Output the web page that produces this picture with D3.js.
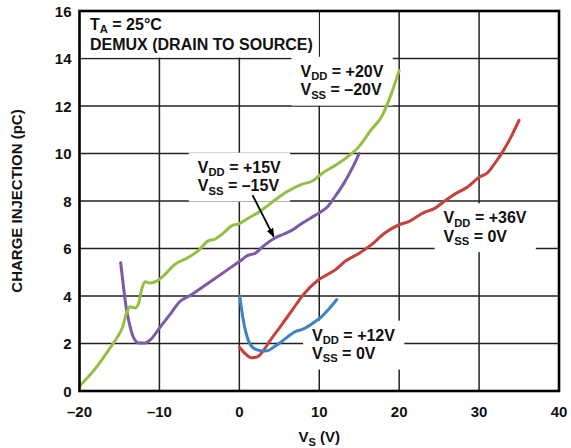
<!DOCTYPE html>
<html>
<head>
<meta charset="utf-8">
<script src="https://cdn.jsdelivr.net/npm/d3@7"></script>
<style>
body { margin: 0; background: #fff; }
text { font-family: "Liberation Sans", Arial, sans-serif; font-weight: bold; fill: #111; }
.grid line { stroke: #222; stroke-width: 1.5; }
.curve { fill: none; stroke-width: 3; stroke-linejoin: round; stroke-linecap: round; }
</style>
</head>
<body>
<div class="chart"></div>
<script>
const xTicks = [-20, -10, 0, 10, 20, 30, 40]
const yTicks = [0, 2, 4, 6, 8, 10, 12, 14, 16]

const vs20 = [-20, -18, -16, -15.2, -14.6, -14.1, -13.7, -13.0, -12.6, -12.2, -11.8, -11.2, -10.5, -9.5, -8.0, -6.5, -5.0, -4.0, -3.0, -2.0, -1.0, 0, 1, 2.5, 4.5, 6, 7.8, 9.2, 10.3, 12.0, 13.5, 15, 16.5, 17.8, 19.0, 20.0]
const qc20 = [0.2, 0.95, 1.9, 2.3, 2.7, 3.3, 3.55, 3.5, 3.7, 4.3, 4.6, 4.55, 4.6, 4.85, 5.35, 5.6, 5.95, 6.3, 6.4, 6.65, 6.95, 7.05, 7.25, 7.55, 8.05, 8.4, 8.7, 8.85, 9.15, 9.5, 9.85, 10.3, 11.0, 11.55, 12.5, 13.5]

const vs15 = [-14.85, -14.5, -14.2, -13.8, -13.3, -12.6, -11.8, -11.0, -10.0, -8.5, -7.5, -6.0, -4.5, -3.0, -1.5, 0, 1.0, 2.0, 3.0, 4.4, 5.5, 6.5, 7.8, 9.0, 10.0, 11.0, 12.0, 13.0, 14.0, 15.0]
const qc15 = [5.4, 4.4, 3.6, 2.9, 2.3, 2.02, 2.02, 2.2, 2.65, 3.3, 3.75, 4.05, 4.4, 4.75, 5.1, 5.45, 5.7, 5.8, 6.1, 6.43, 6.6, 6.75, 7.05, 7.3, 7.5, 7.75, 8.2, 8.7, 9.3, 10.0]

const vs36 = [0, 0.8, 1.5, 2.3, 3.0, 3.8, 5.0, 6.5, 8.0, 9.8, 11.0, 12.0, 13.2, 15.0, 16.5, 18.2, 20.0, 21.2, 23.0, 24.5, 25.5, 27, 28.6, 30.0, 31.1, 32.0, 33.0, 34.0, 35.0]
const qc36 = [1.85, 1.55, 1.4, 1.45, 1.7, 2.1, 2.65, 3.35, 4.05, 4.65, 4.9, 5.1, 5.45, 5.8, 6.15, 6.65, 7.0, 7.13, 7.5, 7.7, 7.95, 8.3, 8.6, 9.0, 9.2, 9.6, 10.1, 10.7, 11.4]

const vs12 = [0.05, 0.3, 0.6, 1.1, 1.8, 2.6, 3.3, 4.4, 5.2, 6.1, 7.0, 7.8, 8.6, 9.5, 10.3, 11.2, 12.2]
const qc12 = [4.0, 3.4, 2.8, 2.15, 1.8, 1.7, 1.68, 1.87, 2.05, 2.3, 2.5, 2.58, 2.72, 2.93, 3.13, 3.45, 3.85]

const series = [
	{ name: "36", color: "#c5413b", x: vs36, y: qc36 },
	{ name: "12", color: "#3f83c5", x: vs12, y: qc12 },
	{ name: "15", color: "#7c59a9", x: vs15, y: qc15 },
	{ name: "20", color: "#93c044", x: vs20, y: qc20 }
]

// label anchors in data units: x, baseline of first line
const labels = [
	{ x: 7.65, y: 13.23, vdd: "+20V", vss: "\u201320V" },
	{ x: -5.19, y: 9.19, vdd: "+15V", vss: "\u201315V" },
	{ x: 25.56, y: 7.06, vdd: "+36V", vss: "0V" },
	{ x: 9.1, y: 2.12, vdd: "+12V", vss: "0V" }
]
const arrowFrom = [1.65, 8.25]
const arrowTo = [4.3, 6.5]

let width = 571
let height = 448
let mLeft = 79.5, mRight = 559, mTop = 11, mBottom = 391

const svg = d3.select('.chart').append("svg")
	.attr("width", width)
	.attr("height", height)

let xScale = d3.scaleLinear().domain([-20, 40]).range([mLeft, mRight])
let yScale = d3.scaleLinear().domain([0, 16]).range([mBottom, mTop])

const fmt = d => d < 0 ? "\u2013" + Math.abs(d) : "" + d

function drawGrid() {
	const g = svg.append("g").attr("class", "grid")
	g.selectAll("line.v").data(xTicks.slice(1, -1)).join("line")
		.attr("class", "v")
		.attr("x1", d => xScale(d)).attr("x2", d => xScale(d))
		.attr("y1", mTop).attr("y2", mBottom)
	g.selectAll("line.h").data(yTicks.slice(1, -1)).join("line")
		.attr("class", "h")
		.attr("y1", d => yScale(d)).attr("y2", d => yScale(d))
		.attr("x1", mLeft).attr("x2", mRight)
}

// one text element, lines as tspans; sub is the subscript part (or null)
function addLine(t, x, dy, main, sub, rest, sdy) {
	t.append("tspan").attr("x", x).attr("dy", dy).text(main)
	if (sub) {
		t.append("tspan").attr("dy", sdy).style("font-size", "11.2px").text(sub)
		t.append("tspan").attr("dy", -sdy).text(rest)
	}
}

function padBox(g, pl, pr, pt, pb) {
	const b = g.node().getBBox()
	g.insert("rect", ":first-child")
		.attr("x", b.x - pl).attr("y", b.y - pt)
		.attr("width", b.width + pl + pr).attr("height", b.height + pt + pb)
		.attr("fill", "#fff")
}

function drawLabels() {
	const title = svg.append("g")
	const tt = title.append("text").attr("y", yScale(15.2)).style("font-size", "16px")
	addLine(tt, xScale(-18.69), 0, "T", "A", " = 25\u00b0C", 3)
	addLine(tt, xScale(-18.69), 19.6, "DEMUX (DRAIN TO SOURCE)", null, "", 0)
	padBox(title, 9, 6, 6, 5)

	labels.forEach(l => {
		const g = svg.append("g").attr("class", "lab")
		const t = g.append("text").attr("y", yScale(l.y)).style("font-size", "16px")
		addLine(t, xScale(l.x), 0, "V", "DD", " = " + l.vdd, 3.5)
		addLine(t, xScale(l.x), 18.3, "V", "SS", " = " + l.vss, 3.5)
		padBox(g, 9, 9, 6, 5)
	})
}

function drawCurves() {
	const line = d3.line()
		.x(d => xScale(d[0]))
		.y(d => yScale(d[1]))
		.curve(d3.curveMonotoneX)
	series.forEach(s => {
		svg.append("path")
			.attr("class", "curve")
			.attr("stroke", s.color)
			.attr("d", line(d3.zip(s.x, s.y)))
	})
}

function drawArrow() {
	svg.append("defs").append("marker")
		.attr("id", "head")
		.attr("viewBox", "0 0 10 10")
		.attr("refX", 9).attr("refY", 5)
		.attr("markerWidth", 5).attr("markerHeight", 5)
		.attr("markerUnits", "strokeWidth")
		.attr("orient", "auto")
		.append("path").attr("d", "M0,1 L10,5 L0,9 Z").attr("fill", "#000")
	svg.append("line")
		.attr("x1", xScale(arrowFrom[0])).attr("y1", yScale(arrowFrom[1]))
		.attr("x2", xScale(arrowTo[0])).attr("y2", yScale(arrowTo[1]))
		.attr("stroke", "#000").attr("stroke-width", 1.8)
		.attr("marker-end", "url(#head)")
}

function drawAxes() {
	svg.append("rect")
		.attr("x", mLeft).attr("y", mTop)
		.attr("width", mRight - mLeft).attr("height", mBottom - mTop)
		.attr("fill", "none").attr("stroke", "#000").attr("stroke-width", 2.6)

	svg.selectAll("text.xt").data(xTicks).join("text")
		.attr("class", "xt")
		.attr("x", d => xScale(d)).attr("y", mBottom + 26)
		.attr("text-anchor", "middle")
		.style("font-size", "15px")
		.text(fmt)

	svg.selectAll("text.yt").data(yTicks).join("text")
		.attr("class", "yt")
		.attr("x", mLeft - 8).attr("y", d => yScale(d) + 5.5)
		.attr("text-anchor", "end")
		.style("font-size", "15px")
		.text(fmt)

	const xt = svg.append("text")
		.attr("x", (mLeft + mRight) / 2).attr("y", 442)
		.attr("text-anchor", "middle")
		.style("font-size", "15px")
	xt.append("tspan").text("V")
	xt.append("tspan").attr("dy", 4).style("font-size", "11px").text("S")
	xt.append("tspan").attr("dy", -4).text(" (V)")

	svg.append("text")
		.attr("transform", "translate(22," + ((mTop + mBottom) / 2) + ") rotate(-90)")
		.attr("text-anchor", "middle")
		.style("font-size", "15px")
		.text("CHARGE INJECTION (pC)")
}

drawGrid()
drawLabels()
drawCurves()
drawArrow()
drawAxes()
</script>
</body>
</html>
